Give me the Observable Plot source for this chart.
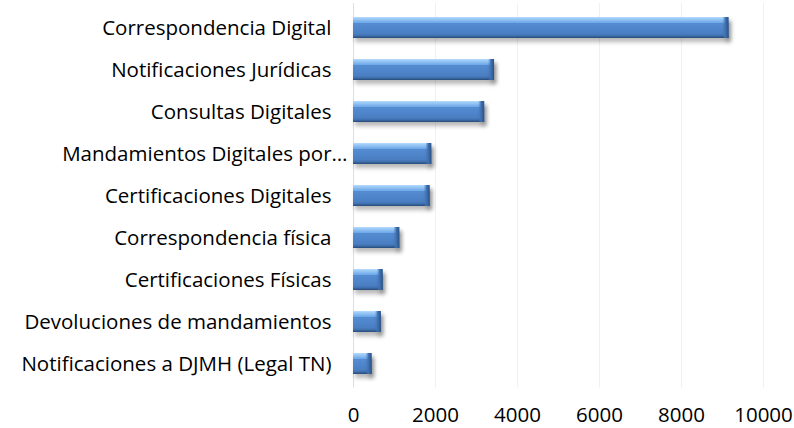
<!DOCTYPE html>
<html><head><meta charset="utf-8">
<script src="https://cdn.jsdelivr.net/npm/d3@7"></script>
<script src="https://cdn.jsdelivr.net/npm/@observablehq/plot@0.6"></script>
<style>html,body{margin:0;padding:0;background:#fff}svg{display:block}</style>
</head><body><div id="chart"></div>
<script>
const categories = [
  "Correspondencia Digital",
  "Notificaciones Jurídicas",
  "Consultas Digitales",
  "Mandamientos Digitales por…",
  "Certificaciones Digitales",
  "Correspondencia física",
  "Certificaciones Físicas",
  "Devoluciones de mandamientos",
  "Notificaciones a DJMH (Legal TN)"
];
const values = [9160, 3440, 3200, 1910, 1870, 1130, 725, 680, 455];
const xTicks = [0, 2000, 4000, 6000, 8000, 10000];
const truncatedLabel = "Mandamientos Digitales por…";

const data = categories.map((c, i) => ({category: c, value: values[i]}));
const FS = 20.5;

const chart = Plot.plot({
  width: 794,
  height: 428,
  marginLeft: 353,
  marginRight: 31,
  marginTop: 3,
  marginBottom: 40.5,
  style: {fontFamily: "'Open Sans', sans-serif", fontSize: FS + "px", color: "#000", background: "#fff", overflow: "visible"},
  x: {domain: [0, 10000], ticks: xTicks},
  y: {domain: categories, paddingInner: 0.5, paddingOuter: 0.25},
  marks: [
    Plot.gridX(xTicks.slice(1), {stroke: "#f1f1f1", strokeOpacity: 1}),
    Plot.ruleX([0], {stroke: "#dedede"}),
    Plot.barX(data, {x: "value", y: "category", fill: "url(#barGrad)"}),
    Plot.barX(data, {x1: "value", x2: "value", y: "category", insetLeft: -6, fill: "url(#capGrad)"}),
    Plot.axisX(xTicks, {tickSize: 0, tickPadding: 19, label: null, fontSize: FS, tickFormat: d3.format("d")}),
    Plot.axisY(categories.filter(c => c !== truncatedLabel), {tickSize: 0, tickPadding: 22, label: null, fontSize: FS}),
    Plot.axisY([truncatedLabel], {tickSize: 0, tickPadding: 6, label: null, fontSize: FS})
  ]
});

const svg = d3.select(chart.tagName.toLowerCase() === "svg" ? chart : chart.querySelector("svg"));
svg.insert("defs", ":first-child").html(`
  <linearGradient id="barGrad" x1="0" y1="0" x2="0" y2="1">
    <stop offset="0" stop-color="#b7dafc"/>
    <stop offset="0.08" stop-color="#9dcbf7"/>
    <stop offset="0.27" stop-color="#6ea8e8"/>
    <stop offset="0.31" stop-color="#548cd2"/>
    <stop offset="0.80" stop-color="#4a7ec2"/>
    <stop offset="0.90" stop-color="#3e6eab"/>
    <stop offset="1" stop-color="#264876"/>
  </linearGradient>
  <linearGradient id="capGrad" x1="0" y1="0" x2="1" y2="0">
    <stop offset="0" stop-color="#4a7ec2" stop-opacity="0"/>
    <stop offset="0.5" stop-color="#3f6fae"/>
    <stop offset="1" stop-color="#2b5285"/>
  </linearGradient>
`);
svg.selectAll("g[aria-label='bar']").style("filter", "drop-shadow(2px 4px 2px rgba(0,0,0,0.28))");
svg.selectAll("g[aria-label='bar'] rect").attr("fill", null);
svg.selectAll("g[aria-label='bar']").each(function(d, i) {
  d3.select(this).attr("fill", i === 0 ? "url(#barGrad)" : "url(#capGrad)");
});
document.getElementById("chart").appendChild(chart);
</script>
</body></html>
